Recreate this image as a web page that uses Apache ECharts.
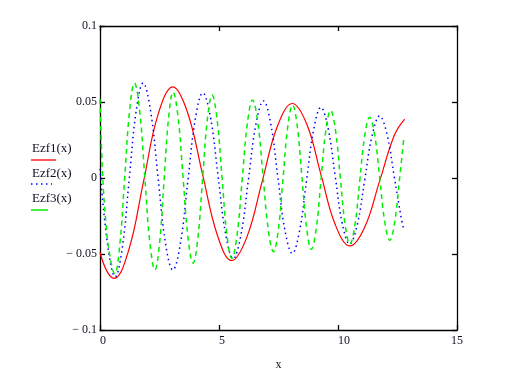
<!DOCTYPE html>
<html>
<head>
<meta charset="utf-8">
<script src="https://cdn.jsdelivr.net/npm/echarts@6/dist/echarts.min.js"></script>
<style>
html,body{margin:0;padding:0;background:#fff;}
#c{width:505px;height:387px;}
</style>
</head>
<body>
<div id="c"></div>
<script>
// ---- data ----
const seriesNames = ['Ezf1(x)', 'Ezf2(x)', 'Ezf3(x)'];
const xTicks = [0, 5, 10, 15];
const xTickLabels = ['0', '5', '10', '15'];
const yTicks = [-0.1, -0.05, 0, 0.05, 0.1];
const yTickLabels = ['\u2212 0.1', '\u2212 0.05', '0', '0.05', '0.1'];

const ezf1X = [0, 0.3, 0.59, 1.205, 1.82, 2.435, 3.06, 3.675, 4.3, 4.925, 5.53, 6.17, 6.81, 7.45, 8.08, 8.69, 9.285, 9.89, 10.5, 11.125, 11.75, 12.375, 12.8];
const ezf1Y = [-0.049, -0.0616, -0.066, -0.0475, -0.003, 0.0415, 0.060, 0.0433, 0.003, -0.0373, -0.0544, -0.0389, -0.0025, 0.0339, 0.049, 0.0353, 0.0022, -0.0309, -0.0447, -0.0322, -0.0019, 0.0284, 0.0388];

const ezf2X = [0, 0.32, 0.64, 0.9325, 1.225, 1.5175, 1.81, 2.1225, 2.435, 2.7475, 3.06, 3.375, 3.69, 4.005, 4.32, 4.64, 4.96, 5.28, 5.6, 5.9175, 6.235, 6.5525, 6.87, 7.17, 7.47, 7.77, 8.08, 8.38, 8.68, 8.98, 9.28, 9.58, 9.88, 10.18, 10.49, 10.805, 11.12, 11.435, 11.75, 12.055, 12.36, 12.665, 12.75];
const ezf2Y = [0.006, -0.044, -0.065, -0.0464, -0.0013, 0.0438, 0.0625, 0.0445, 0.001, -0.0425, -0.0605, -0.0434, -0.0022, 0.0389, 0.056, 0.040, 0.0015, -0.037, -0.053, -0.0378, -0.0012, 0.0355, 0.0507, 0.0361, 0.0009, -0.0344, -0.0496, -0.0351, -0.0015, 0.0321, 0.0465, 0.033, 0.0015, -0.030, -0.0434, -0.031, -0.0015, 0.028, 0.0408, 0.029, 0.0012, -0.027, -0.033];

const ezf3X = [0, 0.1, 0.25, 0.4, 0.62, 0.8275, 1.035, 1.2425, 1.45, 1.665, 1.88, 2.095, 2.31, 2.5, 2.69, 2.88, 3.07, 3.28, 3.49, 3.70, 3.91, 4.11, 4.31, 4.51, 4.71, 4.9175, 5.125, 5.3325, 5.54, 5.7575, 5.975, 6.1925, 6.41, 6.63, 6.85, 7.07, 7.29, 7.49, 7.69, 7.89, 8.09, 8.2875, 8.485, 8.6825, 8.88, 9.0825, 9.285, 9.4875, 9.69, 9.8925, 10.095, 10.2975, 10.5, 10.7075, 10.915, 11.1225, 11.33, 11.5425, 11.755, 11.9675, 12.18, 12.38, 12.58, 12.77];
const ezf3Y = [0.052, 0.005, -0.03, -0.05, -0.063, -0.0446, -0.0003, 0.0441, 0.0625, 0.0445, 0.001, -0.0425, -0.0605, -0.0434, -0.002, 0.0394, 0.0566, 0.0401, 0.0003, -0.0395, -0.056, -0.0398, -0.0007, 0.0384, 0.0546, 0.0388, 0.0008, -0.0372, -0.053, -0.0377, -0.0009, 0.036, 0.0513, 0.0367, 0.0014, -0.0339, -0.0485, -0.0344, -0.0003, 0.0339, 0.048, 0.0341, 0.0005, -0.0331, -0.047, -0.0336, -0.0013, 0.0311, 0.0445, 0.0316, 0.0006, -0.0305, -0.0434, -0.0312, -0.0017, 0.0278, 0.040, 0.0281, -0.0005, -0.0291, -0.041, -0.0294, -0.0015, 0.027];

// ---- chart ----
const zip = (xs, ys) => xs.map((x, i) => [x, ys[i]]);
const colors = ['#ff0000', '#0000ff', '#00ee00'];
const FONT = '"Liberation Serif", "DejaVu Serif", serif';
const labelColor = '#101020';

// labels start at their tick, except the last one, which is centred on it
const xLabelFmt = v => {
  const i = xTicks.indexOf(v);
  if (i < 0) return '';
  const s = xTickLabels[i];
  if (i === xTicks.length - 1) return '{c|' + s + '}';
  return '{p' + s.length + '|' + s + '}';
};
const yLabelFmt = v => { const i = yTicks.findIndex(t => Math.abs(t - v) < 1e-9); return i >= 0 ? yTickLabels[i] : ''; };

const axisLine = { show: true, onZero: false, lineStyle: { color: '#000', width: 1.3 } };
const tick = { show: true, inside: true, length: 5, lineStyle: { color: '#000', width: 1.3 } };
const richBase = { fontFamily: FONT, fontSize: 12, color: labelColor };

const chart = echarts.init(document.getElementById('c'), null, { renderer: 'canvas' });
chart.setOption({
  animation: false,
  backgroundColor: '#ffffff',
  grid: { left: 100, right: 48, top: 26, bottom: 57, containLabel: false },
  xAxis: [
    {
      type: 'value', min: 0, max: 15, interval: 5, position: 'bottom',
      axisLine, axisTick: tick, splitLine: { show: false },
      axisLabel: { formatter: xLabelFmt, fontFamily: FONT, fontSize: 12, color: labelColor, align: 'center', margin: 5,
        rich: {
          c: Object.assign({}, richBase),
          p1: Object.assign({ padding: [0, 0, 0, 6] }, richBase),
          p2: Object.assign({ padding: [0, 0, 0, 12] }, richBase)
        } },
      name: 'x', nameLocation: 'middle', nameGap: 29,
      nameTextStyle: { fontFamily: FONT, fontSize: 12, color: labelColor }
    },
    {
      type: 'value', min: 0, max: 15, interval: 5, position: 'top',
      axisLine, axisTick: tick, splitLine: { show: false }, axisLabel: { show: false }
    }
  ],
  yAxis: [
    {
      type: 'value', min: -0.1, max: 0.1, interval: 0.05, position: 'left',
      axisLine, axisTick: tick, splitLine: { show: false },
      axisLabel: { formatter: yLabelFmt, fontFamily: FONT, fontSize: 12, color: labelColor, margin: 3 }
    },
    {
      type: 'value', min: -0.1, max: 0.1, interval: 0.05, position: 'right',
      axisLine, axisTick: tick, splitLine: { show: false }, axisLabel: { show: false }
    }
  ],
  series: [
    { name: seriesNames[0], type: 'line', data: zip(ezf1X, ezf1Y), smooth: 0.4, showSymbol: false,
      lineStyle: { color: colors[0], width: 1.2 } },
    { name: seriesNames[1], type: 'line', data: zip(ezf2X, ezf2Y), smooth: 0.4, showSymbol: false,
      lineStyle: { color: colors[1], width: 1.5, type: [1.5, 3.5] } },
    { name: seriesNames[2], type: 'line', data: zip(ezf3X, ezf3Y), smooth: 0.4, showSymbol: false,
      lineStyle: { color: colors[2], width: 1.5, type: [5, 4] } }
  ],
  graphic: [
    { type: 'text', left: 32, top: 142, style: { text: seriesNames[0], font: '13px ' + FONT, fill: labelColor } },
    { type: 'line', shape: { x1: 31, y1: 160, x2: 56, y2: 160 }, style: { stroke: colors[0], lineWidth: 1.3 } },
    { type: 'text', left: 32, top: 167, style: { text: seriesNames[1], font: '13px ' + FONT, fill: labelColor } },
    { type: 'line', shape: { x1: 31, y1: 184, x2: 52, y2: 184 }, style: { stroke: colors[1], lineWidth: 1.5, lineDash: [1.5, 3.5] } },
    { type: 'text', left: 32, top: 192, style: { text: seriesNames[2], font: '13px ' + FONT, fill: labelColor } },
    { type: 'line', shape: { x1: 31, y1: 210, x2: 48, y2: 210 }, style: { stroke: colors[2], lineWidth: 1.5 } }
  ]
});
</script>
</body>
</html>
